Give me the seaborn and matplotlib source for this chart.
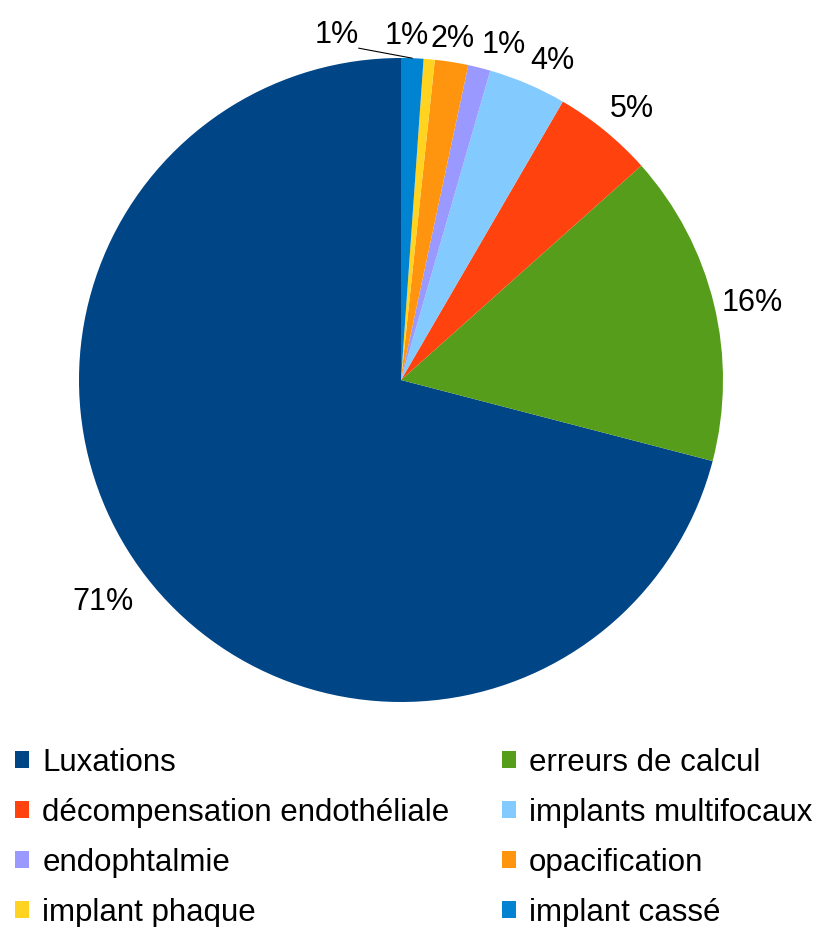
import numpy as np
import matplotlib
matplotlib.use("Agg")
import matplotlib.pyplot as plt
from matplotlib.patches import Patch
import seaborn as sns

# Data (counts)
categories = [
    "Luxations",
    "erreurs de calcul",
    "décompensation endothéliale",
    "implants multifocaux",
    "endophtalmie",
    "opacification",
    "implant phaque",
    "implant cassé",
]
counts = [127, 28, 9, 7, 2, 3, 1, 2]
colors = ["#004586", "#579d1c", "#ff420e", "#83caff",
          "#9999ff", "#ff950e", "#ffd320", "#0084d1"]

sns.set_theme(style="white")
plt.rcParams["font.family"] = ["Liberation Sans", "DejaVu Sans"]

fig = plt.figure(figsize=(8.16, 9.27), dpi=100)
W, H = 816, 927
cx, cy, R = 401, 380, 322
ax = fig.add_axes([(cx - R) / W, (H - cy - R) / H, 2 * R / W, 2 * R / H])

wedges, _ = ax.pie(counts, colors=sns.color_palette(colors), startangle=90,
                   counterclock=True, radius=1.0,
                   wedgeprops=dict(linewidth=0))
ax.set_xlim(-1, 1)
ax.set_ylim(-1, 1)
ax.set_aspect("equal")
ax.axis("off")

total = sum(counts)
fs = 22
labels = []
for w, c in zip(wedges, counts):
    mid = np.deg2rad((w.theta1 + w.theta2) / 2)
    cs, sn = np.cos(mid), np.sin(mid)
    ha = "left" if cs > 0.2 else ("right" if cs < -0.2 else "center")
    va = "bottom" if sn > 0.35 else ("top" if sn < -0.35 else "center")
    r = 1.025 if sn > 0 else 1.05
    t = ax.text(r * cs, r * sn, f"{round(100 * c / total)}%", ha=ha, va=va,
                fontsize=fs, color="black")
    labels.append((t, mid))

# push crowded labels in the upper half to the left, like the original
fig.canvas.draw()
renderer = fig.canvas.get_renderer()
to_data = ax.transData.inverted()
prev = None
for t, mid in labels:
    if np.sin(mid) < 0.35:
        prev = None
        continue
    bb = t.get_window_extent(renderer)
    if prev is not None and bb.x1 > prev.x0 - 2:
        shift = bb.x1 - (prev.x0 - 2)
        lead = shift > bb.width
        if lead:
            shift += 24
        x, y = t.get_position()
        px, py = ax.transData.transform((x, y))
        t.set_position(to_data.transform((px - shift, py)))
        bb = t.get_window_extent(renderer)
        if lead:
            end = to_data.transform((bb.x1, bb.y0 + 2))
            ax.plot([np.cos(mid), end[0]], [np.sin(mid), end[1]],
                    color="black", lw=0.8, clip_on=False)
    prev = bb

handles = [Patch(facecolor=col, edgecolor="none") for col in colors]
leg_kw = dict(frameon=False, fontsize=22.5, labelcolor="black",
              handlelength=0.45, handleheight=0.45,
              handletextpad=0.42, labelspacing=0.635, borderpad=0,
              borderaxespad=0, loc="upper left")
left_idx = [0, 2, 4, 6]
right_idx = [1, 3, 5, 7]
fig.legend([handles[i] for i in left_idx], [categories[i] for i in left_idx],
           bbox_to_anchor=(15 / W, 1 - 748 / H), **leg_kw)
fig.legend([handles[i] for i in right_idx], [categories[i] for i in right_idx],
           bbox_to_anchor=(502 / W, 1 - 748 / H), **leg_kw)

fig.savefig("out.png", dpi=100, facecolor="white")
